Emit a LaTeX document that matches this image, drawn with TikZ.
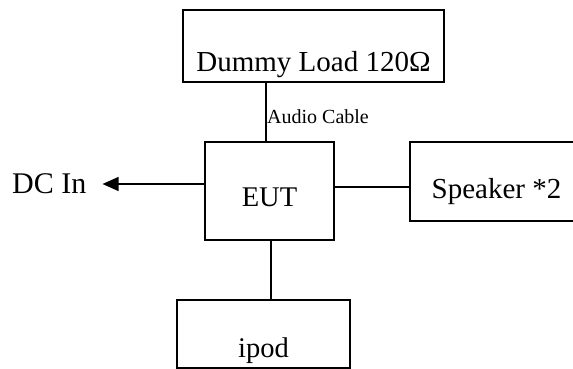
\documentclass[tikz,border=0pt]{standalone}
\usepackage{fontspec}
\setmainfont{Liberation Serif}
\usetikzlibrary{arrows.meta}
\tikzset{
  boxnode/.style={draw, line width=1.4pt, inner sep=0pt, anchor=base},
  wire/.style={line width=1.4pt},
  plain/.style={inner sep=0pt}
}
\begin{document}
\begin{tikzpicture}[x=1pt,y=-1pt]
\useasboundingbox (0,0) rectangle (573,369);
\clip (0,0) rectangle (573,369);
\node[boxnode, minimum width=261pt, text height=61pt, text depth=11pt,
  font=\fontsize{29}{30}\selectfont] (dummy) at (313.5,71) {Dummy Load 120Ω};
\node[boxnode, minimum width=129pt, text height=64pt, text depth=34pt,
  font=\fontsize{28.5}{30}\selectfont] (eut) at (269.5,206) {EUT};
\node[boxnode, minimum width=173pt, text height=56pt, text depth=23pt,
  font=\fontsize{29}{30}\selectfont] (spk) at (496.5,198) {Speaker *2};
\node[boxnode, minimum width=173pt, text height=57pt, text depth=11pt,
  font=\fontsize{28.5}{30}\selectfont] (ipod) at (263.5,357) {ipod};
\node[plain, anchor=base west, font=\fontsize{30}{32}\selectfont] (dcin) at (12,193) {DC In};
\node[plain, anchor=base west, font=\fontsize{20}{22}\selectfont] (audio) at (267,123) {Audio Cable};
% connectors
\draw[wire] ([xshift=-3.5pt]dummy.south -| eut.north) -- ([xshift=-3.5pt]eut.north);
\draw[wire] ([yshift=4pt]eut.east) -- ([yshift=4pt]eut.east -| spk.west);
\draw[wire, -{Triangle[length=16pt,width=14pt]}, shorten >=16pt]
  ([yshift=7pt]eut.west) -- ([yshift=7pt]eut.west -| dcin.east);
\draw[wire] ([xshift=1.5pt]eut.south) -- ([xshift=1.5pt]eut.south |- ipod.north);
\end{tikzpicture}
\end{document}
